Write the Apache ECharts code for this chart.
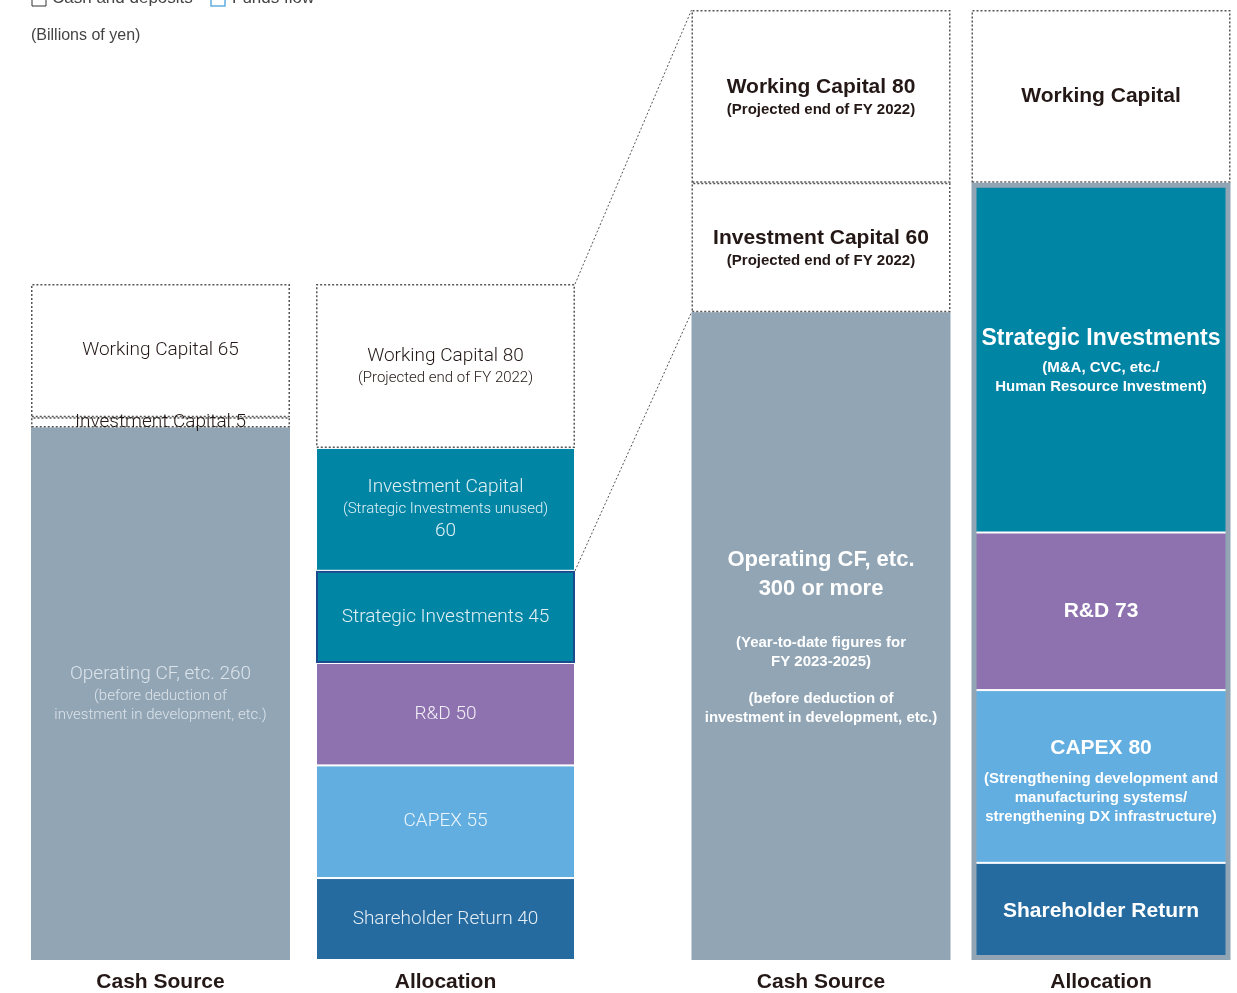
<!DOCTYPE html>
<html>
<head>
<meta charset="utf-8">
<title>Cash Source / Allocation</title>
<style>
  html, body { margin: 0; padding: 0; background: #fff; }
  #main { width: 1237px; height: 993px; }
</style>
<script src="https://cdn.jsdelivr.net/npm/echarts@6/dist/echarts.min.js"></script>
</head>
<body>
<div id="main"></div>
<script>
// columns of each panel
const categories = ['Cash Source', 'Allocation'];

// left panel (Billions of yen)
const sourceNowValues = [260, 5, 65];
const allocNowValues = [40, 55, 50, 45, 60, 80];

// right panel
const sourcePlanValues = [300, 60, 80];
const allocPlanValues = [45, 80, 73, 162, 80];

// label texts (rich text tags: t = title, s = sub line, g/h = spacer)
const sourceNowLabels = [
	'{t|Operating CF, etc. 260}\n{s|(before deduction of}\n{s|investment in development, etc.)}',
	'{t|Investment Capital 5}',
	'{t|Working Capital 65}'
];
const allocNowLabels = [
	'{t|Shareholder Return 40}',
	'{t|CAPEX 55}',
	'{t|R&D 50}',
	'{t|Strategic Investments 45}',
	'{t|Investment Capital}\n{s|(Strategic Investments unused)}\n{t|60}',
	'{t|Working Capital 80}\n{s|(Projected end of FY 2022)}'
];
const sourcePlanLabels = [
	'{o|Operating CF, etc.}\n{o|300 or more}\n{g| }\n{s|(Year-to-date figures for}\n{s|FY 2023-2025)}\n{h| }\n{s|(before deduction of}\n{s|investment in development, etc.)}',
	'{t|Investment Capital 60}\n{s|(Projected end of FY 2022)}',
	'{t|Working Capital 80}\n{s|(Projected end of FY 2022)}'
];
const allocPlanLabels = [
	'{t|Shareholder Return}',
	'{t|CAPEX 80}\n{s|(Strengthening development and}\n{s|manufacturing systems/}\n{s|strengthening DX infrastructure)}',
	'{t|R&D 73}',
	'{b|Strategic Investments}\n{s|(M&A, CVC, etc./}\n{s|Human Resource Investment)}',
	'{t|Working Capital}'
];

// segment kinds (bottom -> top)
const sourceKinds = ['ocf', 'dash', 'dash'];
const allocNowKinds = ['dark', 'light', 'purple', 'si', 'teal', 'dash'];
const allocPlanKinds = ['dark', 'light', 'purple', 'teal', 'dash'];

const colors = {
	ocf: '#91a5b5',
	teal: '#0085a5',
	purple: '#8e72b0',
	light: '#62aee0',
	dark: '#256ba0'
};

const BAR_W = 259;

const sum = arr => arr.reduce((a, b) => a + b, 0);

const itemStyleOf = kind => {
	if (kind === 'dash') return { color: '#fff', borderColor: '#555', borderWidth: 1.5, borderType: [2, 2] };
	if (kind === 'si') return { color: colors.teal, borderColor: '#1c4a8e', borderWidth: 2 };
	if (kind === 'ocf') return { color: colors.ocf };
	return { color: colors[kind], borderColor: '#fff', borderWidth: 1 };
};

const lightRich = {
	t: { fontFamily: 'Roboto', fontWeight: 300, fontSize: 19, lineHeight: 25 },
	s: { fontFamily: 'Roboto', fontWeight: 300, fontSize: 15, lineHeight: 19 }
};
const boldRich = {
	t: { fontFamily: 'Liberation Sans', fontWeight: 'bold', fontSize: 21, lineHeight: 27 },
	o: { fontFamily: 'Liberation Sans', fontWeight: 'bold', fontSize: 22, lineHeight: 29 },
	b: { fontFamily: 'Liberation Sans', fontWeight: 'bold', fontSize: 23, lineHeight: 40 },
	s: { fontFamily: 'Liberation Sans', fontWeight: 'bold', fontSize: 15, lineHeight: 19 },
	g: { fontSize: 14, lineHeight: 30 },
	h: { fontSize: 14, lineHeight: 18 }
};
// right allocation titles sit further above their sub lines
const boldRichTall = Object.assign({}, boldRich, {
	t: Object.assign({}, boldRich.t, { lineHeight: 42 })
});

const textColorOf = (kind, bold) => {
	if (kind === 'dash') return '#231815';
	if (kind === 'ocf') return bold ? '#ffffff' : '#dce3e9';
	return bold ? '#ffffff' : 'rgba(255,255,255,0.88)';
};

// one series per segment, all stacked in its column
const makeSeries = (values, kinds, labels, catIdx, xIdx, yIdx, stack, rich) =>
	values.map((v, i) => ({
		type: 'bar',
		stack: stack,
		xAxisIndex: xIdx,
		yAxisIndex: yIdx,
		barWidth: BAR_W,
		clip: false,
		data: catIdx === 0 ? [v, '-'] : ['-', v],
		itemStyle: itemStyleOf(kinds[i]),
		label: {
			show: true,
			position: 'inside',
			formatter: labels[i],
			color: textColorOf(kinds[i], rich !== lightRich),
			align: 'center',
			rich: rich
		},
		silent: true
	}));

const series = [].concat(
	makeSeries(sourceNowValues, sourceKinds, sourceNowLabels, 0, 0, 0, 'left', lightRich),
	makeSeries(allocNowValues, allocNowKinds, allocNowLabels, 1, 0, 0, 'left', lightRich),
	makeSeries(sourcePlanValues, sourceKinds, sourcePlanLabels, 0, 1, 1, 'right', boldRich),
	makeSeries(allocPlanValues, allocPlanKinds, allocPlanLabels, 1, 1, 1, 'right', boldRichTall)
);

// gray frame round the right allocation (funded by operating CF + investment capital)
series.push({
	type: 'bar',
	xAxisIndex: 2,
	yAxisIndex: 1,
	barWidth: BAR_W,
	clip: false,
	z: 5,
	silent: true,
	data: ['-', sum(allocPlanValues.slice(0, 4))],
	itemStyle: { color: 'transparent', borderColor: colors.ocf, borderWidth: 5 }
});

const catAxis = (gridIndex, show, boundaryGap) => ({
	type: 'category',
	gridIndex: gridIndex,
	data: categories,
	show: show,
	boundaryGap: boundaryGap,
	axisLine: { show: false },
	axisTick: { show: false },
	axisLabel: {
		margin: 12,
		fontFamily: 'Liberation Sans',
		fontWeight: 'bold',
		fontSize: 21,
		color: '#231815'
	}
});

const chart = echarts.init(document.getElementById('main'));

chart.setOption({
	animation: false,
	title: {
		text: '(Billions of yen)',
		left: 26,
		top: 23,
		textStyle: { fontFamily: 'Liberation Sans', fontWeight: 'normal', fontSize: 16, color: '#444' }
	},
	grid: [
		{ left: 18, width: 570, top: 284, bottom: 33 },
		// right panel: categories sit on the grid edges
		{ left: 821, width: 280, top: 10, bottom: 33 }
	],
	xAxis: [catAxis(0, true, true), catAxis(1, true, false), catAxis(1, false, false)],
	yAxis: [
		{ type: 'value', gridIndex: 0, min: 0, max: sum(sourceNowValues), show: false },
		{ type: 'value', gridIndex: 1, min: 0, max: sum(sourcePlanValues), show: false }
	],
	series: series
});

// dotted connectors from the left allocation to the right cash source
const half = BAR_W / 2;
const a1 = chart.convertToPixel({ xAxisIndex: 0, yAxisIndex: 0 }, [1, sum(allocNowValues)]);
const a2 = chart.convertToPixel({ xAxisIndex: 0, yAxisIndex: 0 }, [1, sum(allocNowValues.slice(0, 4))]);
const b1 = chart.convertToPixel({ xAxisIndex: 1, yAxisIndex: 1 }, [0, sum(sourcePlanValues)]);
const b2 = chart.convertToPixel({ xAxisIndex: 1, yAxisIndex: 1 }, [0, sourcePlanValues[0]]);

const dotted = { stroke: '#555', lineWidth: 1, lineDash: [2, 2] };

chart.setOption({
	graphic: [
		{ type: 'line', shape: { x1: a1[0] + half, y1: a1[1], x2: b1[0] - half, y2: b1[1] }, style: dotted },
		{ type: 'line', shape: { x1: a2[0] + half, y1: a2[1], x2: b2[0] - half, y2: b2[1] }, style: dotted },
		// legend, partly cut by the top edge
		{ type: 'rect', shape: { x: 32, y: -8, width: 14, height: 14 }, style: { fill: '#fff', stroke: '#333', lineWidth: 1 } },
		{ type: 'text', x: 52, y: -2, style: { text: 'Cash and deposits', fontFamily: 'Liberation Sans', fontSize: 17, fill: '#444', verticalAlign: 'middle' } },
		{ type: 'rect', shape: { x: 211, y: -8, width: 14, height: 14 }, style: { fill: '#fff', stroke: '#62aee0', lineWidth: 1.5 } },
		{ type: 'text', x: 232, y: -2, style: { text: 'Funds flow', fontFamily: 'Liberation Sans', fontSize: 17, fill: '#444', verticalAlign: 'middle' } }
	]
});
</script>
</body>
</html>
